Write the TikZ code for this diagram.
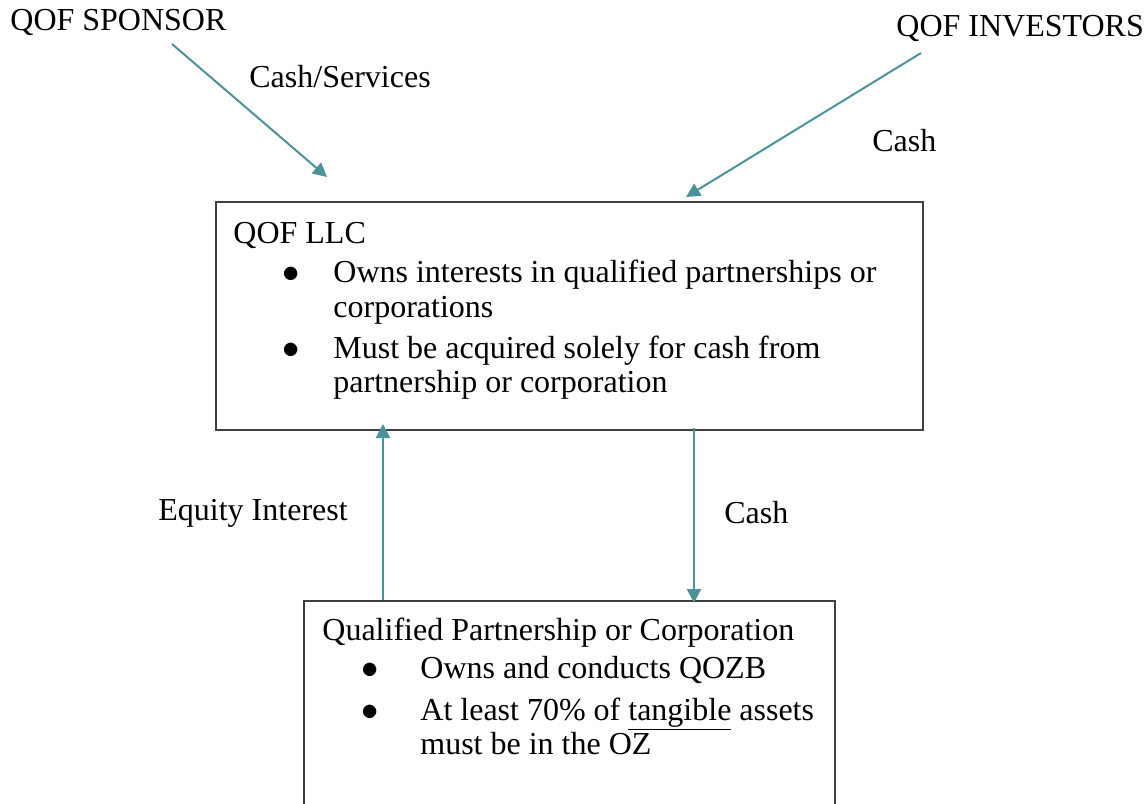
\documentclass[tikz,border=0pt]{standalone}
\usepackage{fontspec}
\setmainfont{Liberation Serif}
\usetikzlibrary{arrows.meta,positioning}
\definecolor{flow}{RGB}{75,146,154}
\definecolor{boxline}{RGB}{64,64,64}
\newcommand{\itemdot}{\smash{$\bullet$}}

\begin{document}
\begin{tikzpicture}[x=0.5pt,y=-0.5pt,
    every node/.style={font=\fontsize{16pt}{18.4pt}\selectfont, inner sep=0pt, anchor=base west},
    entity/.style={draw=boxline, line width=1pt, anchor=north west},
    money/.style={draw=flow, line width=1pt, -{Triangle[length=7pt,width=7pt]}}]
    \useasboundingbox (0,0) rectangle (1148,804);

    % the two entities
    \node[entity, minimum width=353.5pt, minimum height=114pt] (llc) at (215,201) {};
    \node[entity, minimum width=265.5pt, minimum height=130pt] (qpc) at (303,600) {};

    % QOF LLC contents
    \node (llcT) at (233,243) {QOF LLC};
    \node (llcB1) at (282,282) {\itemdot};
    \node (llcI1) at (333,282) {Owns interests in qualified partnerships or};
    \node (llcI1b) at (333,317) {corporations};
    \node (llcB2) at (282,358) {\itemdot};
    \node (llcI2) at (333,358) {Must be acquired solely for cash from};
    \node (llcI2b) at (333,392) {partnership or corporation};

    % partnership / corporation contents
    \node (qpcT) at (322,640) {Qualified Partnership or Corporation};
    \node (qpcB1) at (361,678) {\itemdot};
    \node (qpcI1) at (420,678) {Owns and conducts QOZB};
    \node (qpcB2) at (361,720) {\itemdot};
    \node (qpcI2) at (420,720) {At least 70\% of \underline{tangible} assets};
    \node (qpcI2b) at (420,754) {must be in the OZ};

    % parties and flow labels
    \node (sponsor) at (10,30) {QOF SPONSOR};
    \node (investors) at (896,36) {QOF INVESTORS};
    \node (lblServ) at (249,87) {Cash/Services};
    \node (lblCashIn) at (872,151) {Cash};
    \node (lblEquity) at (158,520) {Equity Interest};
    \node (lblCashDown) at (724,523) {Cash};

    % arrow ends
    \coordinate (sponsorOut) at (172,44);
    \coordinate (llcIn1) at (327,177);
    \coordinate (investOut) at (921,53);
    \coordinate (llcIn2) at (686,197);
    \coordinate (qpcUp) at (383,600);
    \coordinate (llcDown) at (383,424);
    \coordinate (llcOut) at (694,428);
    \coordinate (qpcIn) at (694,603);

    \draw[money] (sponsorOut) -- (llcIn1);
    \draw[money] (investOut) -- (llcIn2);
    \draw[money] (qpcUp) -- (llcDown);
    \draw[money] (llcOut) -- (qpcIn);
\end{tikzpicture}
\end{document}
